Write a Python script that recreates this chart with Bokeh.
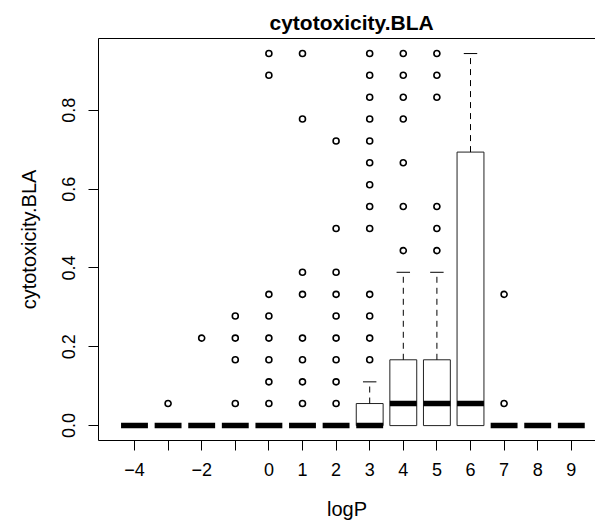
import numpy as np
from bokeh.plotting import figure
from bokeh.models import Range1d, FixedTicker, LinearAxis, NumeralTickFormatter
from bokeh.embed import file_html
from bokeh.resources import INLINE

# ---- data ----
logp = [-4, -3, -2, -1, 0, 1, 2, 3, 4, 5, 6, 7, 8, 9]
box_q1 = [0, 0, 0, 0, 0, 0, 0, 0, 0, 0, 0, 0, 0, 0]
box_median = [0, 0, 0, 0, 0, 0, 0, 0, 0.056, 0.056, 0.056, 0, 0, 0]
box_q3 = [0, 0, 0, 0, 0, 0, 0, 0.056, 0.167, 0.167, 0.694, 0, 0, 0]
whisker_hi = [0, 0, 0, 0, 0, 0, 0, 0.111, 0.389, 0.389, 0.944, 0, 0, 0]

outlier_logp = ([-3] + [-2] + [-1] * 4 + [0] * 8 + [1] * 8 + [2] * 9 + [3] * 13
                + [4] * 7 + [5] * 6 + [7] * 2)
outlier_value = [
    0.056,
    0.222,
    0.056, 0.167, 0.222, 0.278,
    0.056, 0.111, 0.167, 0.222, 0.278, 0.333, 0.889, 0.944,
    0.056, 0.111, 0.167, 0.222, 0.333, 0.389, 0.778, 0.944,
    0.056, 0.111, 0.167, 0.222, 0.278, 0.333, 0.389, 0.5, 0.722,
    0.167, 0.222, 0.278, 0.333, 0.5, 0.556, 0.611, 0.667, 0.722, 0.778, 0.833, 0.889, 0.944,
    0.444, 0.556, 0.667, 0.778, 0.833, 0.889, 0.944,
    0.444, 0.5, 0.556, 0.833, 0.889, 0.944,
    0.056, 0.333,
]

x_ticks = [-4, -3, -2, -1, 0, 1, 2, 3, 4, 5, 6, 7, 8, 9]
x_tick_labels = {-4: "\u22124", -3: "", -2: "\u22122", -1: ""}
y_ticks = [0.0, 0.2, 0.4, 0.6, 0.8]

FONT = "Liberation Sans"
BOXW = 0.8

x = np.array(logp, dtype=float)
q1 = np.array(box_q1, dtype=float)
q3 = np.array(box_q3, dtype=float)
med = np.array(box_median, dtype=float)
wh = np.array(whisker_hi, dtype=float)

p = figure(width=595, height=524, output_backend="svg", toolbar_location=None,
           x_range=Range1d(-5.071, 9.72), y_range=Range1d(-0.0378, 0.9822),
           min_border_left=98, min_border_right=0, min_border_top=38, min_border_bottom=84,
           title="cytotoxicity.BLA")
p.outline_line_color = None
p.xgrid.grid_line_color = None
p.ygrid.grid_line_color = None
p.background_fill_color = "white"
p.border_fill_color = "white"

p.title.align = "left"
p.title.offset = 171
p.title.text_font = FONT
p.title.text_font_size = "21px"
p.title.text_font_style = "bold"
p.title.text_color = "black"

# x axis
xa = p.xaxis[0]
xa.ticker = FixedTicker(ticks=x_ticks)
xa.major_label_overrides = x_tick_labels
xa.axis_label = "logP"
for ax in (p.xaxis[0], p.yaxis[0]):
    ax.axis_line_color = "black"
    ax.axis_line_width = 1
    ax.major_tick_line_color = "black"
    ax.major_tick_out = 10
    ax.major_tick_in = 0
    ax.minor_tick_line_color = None
    ax.major_label_text_font = FONT
    ax.major_label_text_font_size = "18px"
    ax.major_label_text_color = "black"
    ax.axis_label_text_font = FONT
    ax.axis_label_text_font_size = "20px"
    ax.axis_label_text_font_style = "normal"
    ax.axis_label_text_color = "black"
xa.major_label_standoff = 12
xa.axis_label_standoff = 19

ya = p.yaxis[0]
ya.ticker = FixedTicker(ticks=y_ticks)
ya.formatter = NumeralTickFormatter(format="0.0")
ya.major_label_orientation = "vertical"
ya.axis_label = "cytotoxicity.BLA"
ya.major_label_standoff = 13
ya.axis_label_standoff = 20

top_axis = LinearAxis(ticker=FixedTicker(ticks=[]), major_tick_out=0, major_tick_in=0,
                      minor_tick_out=0, minor_tick_in=0,
                      major_label_text_font_size="0px", axis_line_color="black",
                      major_label_standoff=0)
p.add_layout(top_axis, "above")

# boxes (only non-degenerate ones)
has_box = q3 > q1
p.vbar(x=x[has_box], width=BOXW, bottom=q1[has_box], top=q3[has_box],
       fill_color="white", line_color="#222222", line_width=1)

# whiskers
has_wh = wh > q3
p.segment(x0=x[has_wh], y0=q3[has_wh], x1=x[has_wh], y1=wh[has_wh],
          line_color="black", line_width=1, line_dash="6 5")
p.segment(x0=x[has_wh] - BOXW / 4, y0=wh[has_wh], x1=x[has_wh] + BOXW / 4, y1=wh[has_wh],
          line_color="black", line_width=1)

# medians
p.segment(x0=x - BOXW / 2, y0=med, x1=x + BOXW / 2, y1=med,
          line_color="black", line_width=5.5, line_cap="butt")

# outliers
p.scatter(x=outlier_logp, y=outlier_value, marker="circle", size=6,
          fill_color=None, line_color="black", line_width=1.6)

open("out.html", "w").write(file_html(p, INLINE))
